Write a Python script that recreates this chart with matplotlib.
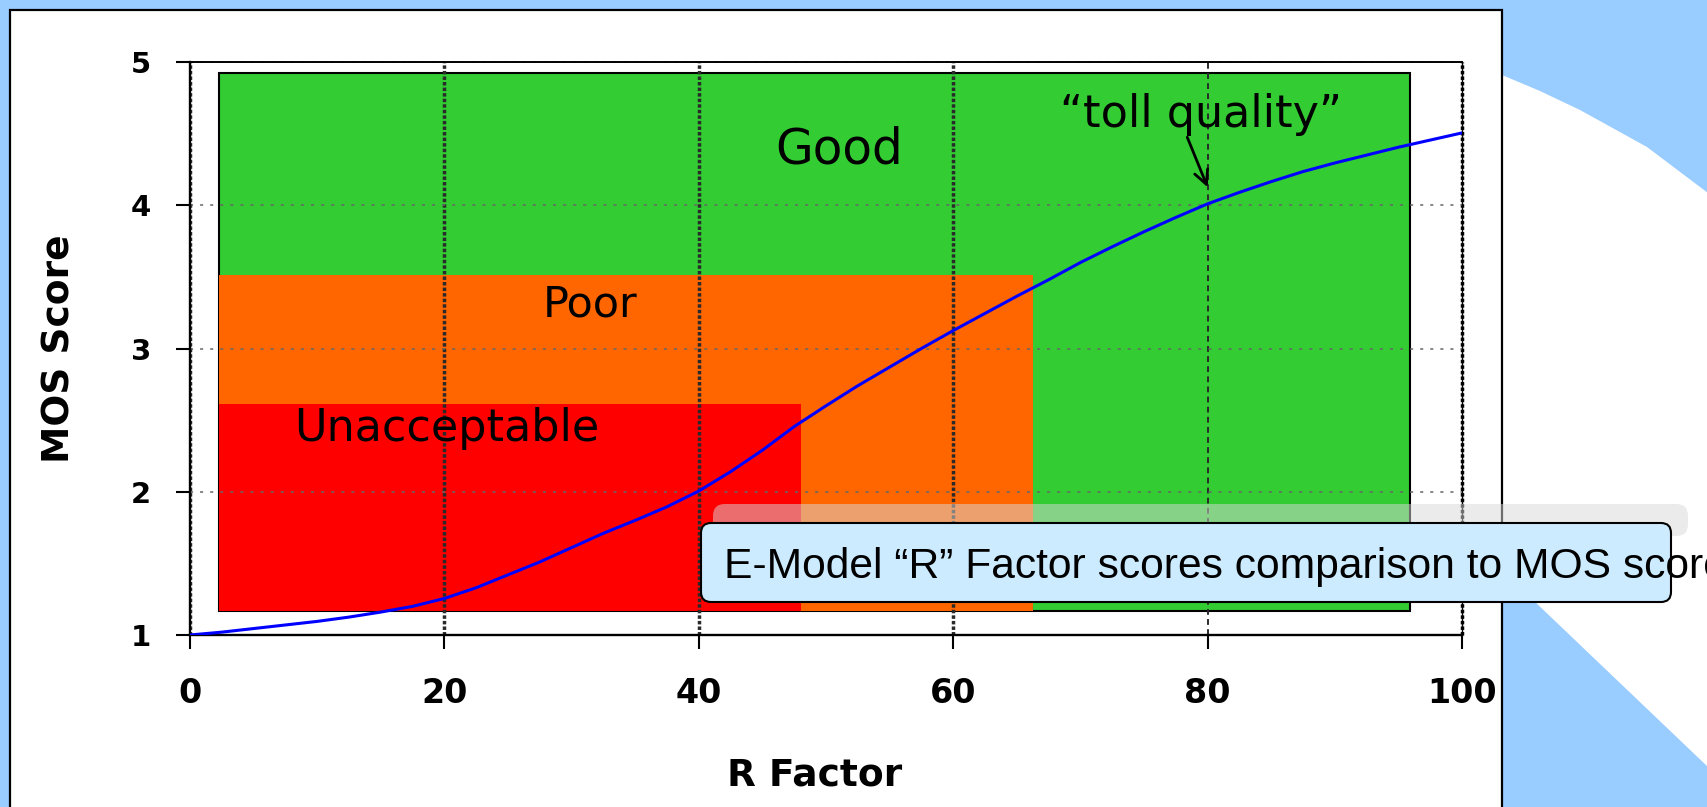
import matplotlib
matplotlib.use('Agg')
import matplotlib.pyplot as plt
from matplotlib.patches import Rectangle, FancyBboxPatch, Polygon

# ---------------- data ----------------
r_factor = [0, 2.5, 5, 7.5, 10, 12.5, 15, 17.5, 20, 22.5, 25, 27.5, 30, 32.5, 35, 37.5,
            40, 42.5, 45, 47.5, 50, 52.5, 55, 57.5, 60, 62.5, 65, 67.5, 70, 72.5, 75,
            77.5, 80, 82.5, 85, 87.5, 90, 92.5, 95, 97.5, 100]
mos_score = [1.00, 1.02, 1.045, 1.07, 1.095, 1.125, 1.16, 1.20, 1.255, 1.33, 1.42, 1.51,
             1.61, 1.71, 1.80, 1.895, 2.005, 2.14, 2.29, 2.455, 2.60, 2.74, 2.87, 3.00,
             3.125, 3.245, 3.365, 3.48, 3.60, 3.71, 3.815, 3.915, 4.01, 4.09, 4.165,
             4.235, 4.295, 4.35, 4.405, 4.455, 4.505]

zone_names = ['Good', 'Poor', 'Unacceptable']
zone_x0 = [2.3, 2.3, 2.3]
zone_x1 = [95.9, 66.3, 48.0]
zone_y0 = [1.17, 1.17, 1.17]
zone_y1 = [4.92, 3.51, 2.61]
zone_colors = ['#33CC33', '#FF6600', '#FF0000']
zone_label_x = [51.0, 31.45, 20.2]
zone_label_y = [4.29, 3.226, 2.354]
zone_label_size = [35, 31, 32]

x_ticks = [0, 20, 40, 60, 80, 100]
y_ticks = [1, 2, 3, 4, 5]
x_label = 'R Factor'
y_label = 'MOS Score'
toll_text = '“toll quality”'
toll_point = (80.0, 4.126)
toll_text_pos = (79.5, 4.545)
toll_arrow_start = (78.4, 4.475)
caption = 'E-Model “R” Factor scores comparison to MOS score'

# ---------------- figure ----------------
W, H = 1708, 807
fig = plt.figure(figsize=(W / 100, H / 100), dpi=100)

# slide background
bg = fig.add_axes([0, 0, 1, 1])
bg.set_xlim(0, W)
bg.set_ylim(H, 0)
bg.axis('off')
bg.set_zorder(0)
bg.add_patch(Rectangle((0, 0), W, H, facecolor='#99CCFF', edgecolor='none'))
swoosh = [(1490, 70), (1502, 75), (1540, 91), (1580, 110), (1647, 147), (1708, 193),
          (1708, 767), (1533, 600), (1502, 570), (1490, 560)]
bg.add_patch(Polygon(swoosh, closed=True, facecolor='white', edgecolor='none'))
bg.add_patch(Rectangle((10, 10), 1492, 820, facecolor='white', edgecolor='black', linewidth=1.6))

# chart axes
ax = fig.add_axes([190 / W, (H - 635) / H, 1272 / W, 573 / H])
ax.set_zorder(1)
ax.patch.set_alpha(0)
ax.set_xlim(0, 100)
ax.set_ylim(1, 5)

for i, name in enumerate(zone_names):
    ax.add_patch(Rectangle((zone_x0[i], zone_y0[i]), zone_x1[i] - zone_x0[i], zone_y1[i] - zone_y0[i],
                           facecolor=zone_colors[i],
                           edgecolor='black' if i == 0 else 'none',
                           linewidth=1.5, zorder=1 + 0.1 * i))
    ax.text(zone_label_x[i], zone_label_y[i], name, ha='center', va='baseline',
            fontsize=zone_label_size[i], color='black', zorder=4)

ax.set_xticks(x_ticks)
ax.set_yticks(y_ticks)
ax.set_xticklabels([str(v) for v in x_ticks], fontweight='bold')
ax.set_yticklabels([str(v) for v in y_ticks], fontweight='bold')
ax.set_axisbelow('line')
ax.xaxis.grid(True, color='#2a2a2a', linestyle=(0, (1.0, 0.6)), linewidth=2.5)
ax.yaxis.grid(True, color='#666666', linestyle=(0, (2.0, 4.6)), linewidth=1.1)
gl = ax.get_xgridlines()
gl[4].set_linestyle((0, (3.0, 2.2)))
gl[4].set_linewidth(1.4)
gl[5].set_clip_on(False)
gl[5].set_color('black')
ax.get_ygridlines()[4].set_clip_on(False)

ax.tick_params(axis='x', direction='out', length=10, width=1.5, labelsize=24, pad=20,
               top=False)
ax.tick_params(axis='y', direction='out', length=10, width=1.5, labelsize=21, pad=18,
               right=False)
for s in ['left', 'bottom']:
    ax.spines[s].set_linewidth(1.7)
ax.spines['top'].set_linewidth(1.4)
ax.spines['right'].set_linewidth(1.0)

ax.plot(r_factor, mos_score, color='#0000FF', linewidth=2.2, zorder=3)

ax.text(toll_text_pos[0], toll_text_pos[1], toll_text, ha='center', va='baseline',
        fontsize=32, color='black', zorder=4)
ax.annotate('', xy=toll_point, xytext=toll_arrow_start,
            arrowprops=dict(arrowstyle='->', lw=2, color='black', mutation_scale=25,
                            shrinkA=0, shrinkB=0), zorder=4)

ax.set_xlabel(x_label, fontsize=27, fontweight='bold')
ax.set_ylabel(y_label, fontsize=27, fontweight='bold')
ax.xaxis.label.set_va('center')
ax.yaxis.label.set_va('center')
ax.xaxis.set_label_coords((815 - 190) / 1272, (635 - 776) / 573)
ax.yaxis.set_label_coords((60 - 190) / 1272, 0.5)

# overlay caption box
ov = fig.add_axes([0, 0, 1, 1])
ov.set_xlim(0, W)
ov.set_ylim(H, 0)
ov.axis('off')
ov.set_zorder(3)
ov.patch.set_alpha(0)
ov.add_patch(FancyBboxPatch((713, 504), 1688 - 713, 32,
                            boxstyle='round,pad=0,rounding_size=12',
                            facecolor=(216 / 255, 216 / 255, 216 / 255), alpha=0.51,
                            edgecolor='none'))
ov.add_patch(FancyBboxPatch((701, 523), 970, 79,
                            boxstyle='round,pad=0,rounding_size=10',
                            facecolor='#CCEBFF', edgecolor='black', linewidth=1.5))
ov.text(724, 578, caption, fontsize=30.7, family='Liberation Sans',
        ha='left', va='baseline', color='black', clip_on=False)

fig.savefig('out.png', dpi=100)
